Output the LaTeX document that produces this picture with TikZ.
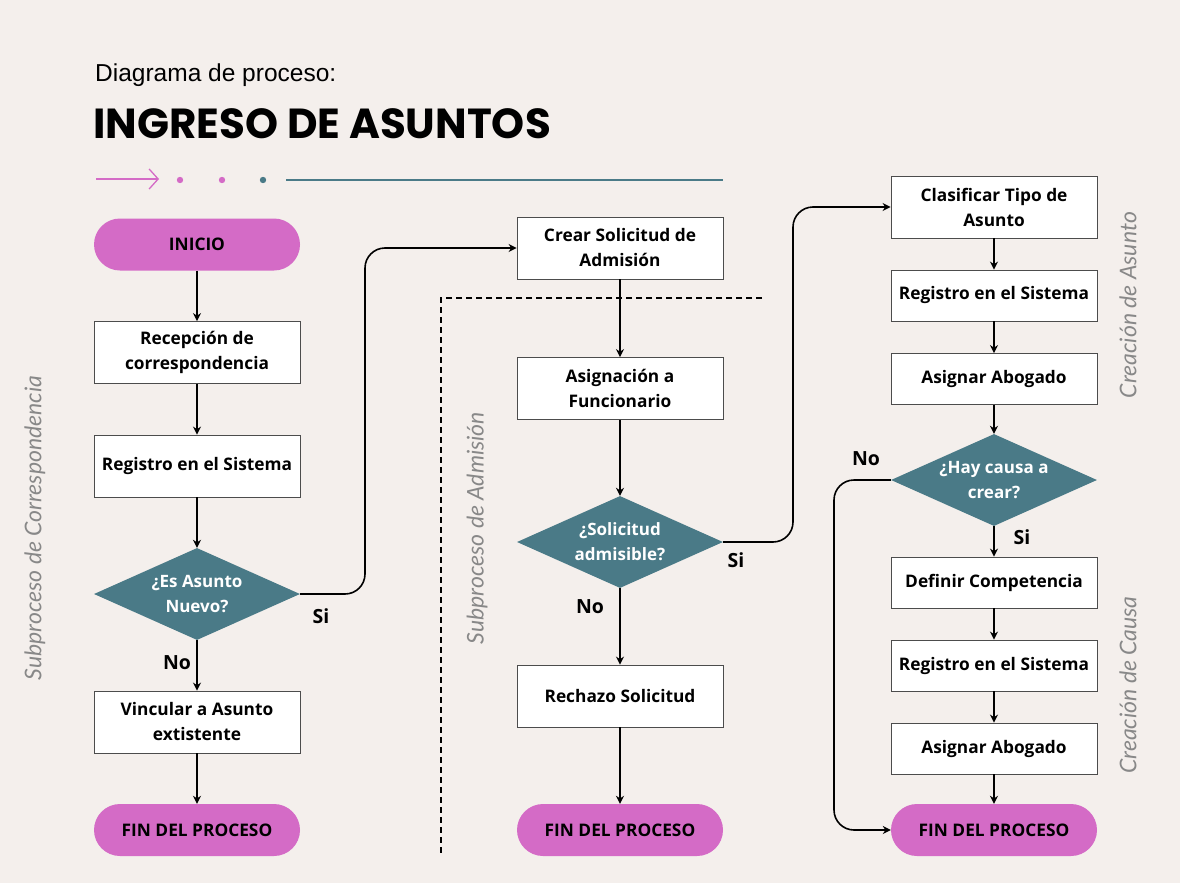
\documentclass[tikz,border=0pt]{standalone}
\usepackage{fontspec}
\setmainfont{Open Sans}
\newfontfamily\titlefont{Poppins}
\newfontfamily\subfont{Liberation Sans}
\newfontfamily\sidefont{Lato}
\usetikzlibrary{shapes.geometric,arrows.meta,positioning}
\definecolor{bgc}{HTML}{F4EFEC}
\definecolor{pill}{HTML}{D46BC6}
\definecolor{teal}{HTML}{4A7A87}
\definecolor{sidegray}{HTML}{888888}
\tikzset{
  procbox/.style={draw=black!70,line width=0.8pt,fill=white,minimum width=206pt,minimum height=62pt,inner sep=0pt,align=center,font=\fontsize{17.3}{25}\selectfont\bfseries},
  pillbox/.style={rounded corners=26pt,fill=pill,minimum width=206pt,minimum height=52pt,inner sep=0pt,align=center,font=\fontsize{17.3}{25}\selectfont\bfseries},
  decision/.style={diamond,fill=teal,aspect=2.24,minimum width=206pt,minimum height=92pt,inner sep=0pt,align=center,text=white,font=\fontsize{17}{25}\selectfont\bfseries},
  flow/.style={line width=1.6pt,-{Stealth[length=8pt,width=8pt]},rounded corners=20pt},
  answer/.style={font=\fontsize{19.5}{22}\selectfont\bfseries,inner sep=0pt},
  sidelabel/.style={rotate=90,text=sidegray,font=\fontsize{23}{26}\selectfont\sidefont\itshape,inner sep=0pt},
  sepline/.style={line width=1.3pt,dashed,dash pattern=on 6pt off 4pt}
}
\begin{document}
\begin{tikzpicture}[x=1pt,y=-1pt]
\fill[bgc] (0,0) rectangle (1180,883);
\useasboundingbox (0,0) rectangle (1180,883);
% title
\node[anchor=west,inner sep=0pt,font=\fontsize{24.5}{28}\selectfont\subfont] (t1) at (95,75) {Diagrama de proceso:};
\node[anchor=west,inner sep=0pt,font=\fontsize{42}{46}\selectfont\titlefont\bfseries] (t2) at (93,124) {INGRESO DE ASUNTOS};
% decoration
\coordinate (da) at (96,179);
\coordinate (db) at (159,179);
\draw[pill,line width=1.3pt,-{Straight Barb[length=9pt,width=20pt]}] (da) -- (db);
\fill[pill] (180,180) circle (3.2pt);
\fill[pill] (222,180) circle (3.2pt);
\fill[teal] (263,180) circle (3.2pt);
\coordinate (la) at (286,180);
\coordinate (lb) at (723,180);
\draw[teal,line width=1.3pt] (la) -- (lb);
% column 1
\node[pillbox] (ini) at (197,244.5) {INICIO};
\node[procbox] (rec) at (197,352.5) {Recepción de\\correspondencia};
\node[procbox] (reg1) at (197,466) {Registro en el Sistema};
\node[decision] (d1) at (197,594) {¿Es Asunto\\Nuevo?};
\node[procbox] (vin) at (197,722) {Vincular a Asunto\\extistente};
\node[pillbox] (fin1) at (197,830) {FIN DEL PROCESO};
% column 2
\node[procbox] (cre) at (620,248) {Crear Solicitud de\\Admisión};
\node[procbox] (asi) at (620,388.5) {Asignación a\\Funcionario};
\node[decision] (d2) at (620,542) {¿Solicitud\\admisible?};
\node[procbox] (rech) at (620,696) {Rechazo Solicitud};
\node[pillbox] (fin2) at (620,830) {FIN DEL PROCESO};
% column 3
\node[procbox] (cla) at (994,207) {Clasificar Tipo de\\Asunto};
\node[procbox,minimum height=51pt] (reg2) at (994,295.5) {Registro en el Sistema};
\node[procbox,minimum height=51pt] (abo1) at (994,379) {Asignar Abogado};
\node[decision] (d3) at (994,480) {¿Hay causa a\\crear?};
\node[procbox,minimum height=51pt] (def) at (994,582.5) {Definir Competencia};
\node[procbox,minimum height=51pt] (reg3) at (994,665.5) {Registro en el Sistema};
\node[procbox,minimum height=51pt] (abo2) at (994,748.5) {Asignar Abogado};
\node[pillbox] (fin3) at (994,830) {FIN DEL PROCESO};
% vertical flows
\draw[flow] (ini) -- (rec);
\draw[flow] (rec) -- (reg1);
\draw[flow] (reg1) -- (d1);
\draw[flow] (d1) -- (vin);
\draw[flow] (vin) -- (fin1);
\draw[flow] (cre) -- (asi);
\draw[flow] (asi) -- (d2);
\draw[flow] (d2) -- (rech);
\draw[flow] (rech) -- (fin2);
\draw[flow] (cla) -- (reg2);
\draw[flow] (reg2) -- (abo1);
\draw[flow] (abo1) -- (d3);
\draw[flow] (d3) -- (def);
\draw[flow] (def) -- (reg3);
\draw[flow] (reg3) -- (abo2);
\draw[flow] (abo2) -- (fin3);
% bent flows
\draw[flow] (d1.east) -| (365,400) |- (cre.west);
\draw[flow] (d2.east) -| (793,400) |- (cla.west);
\draw[flow] (d3.west) -| (834,650) |- (fin3.west);
% answers
\node[answer] (s1) at (321,616) {Si};
\node[answer] (n1) at (177,663) {No};
\node[answer] (s2) at (736,560) {Si};
\node[answer] (n2) at (590,607) {No};
\node[answer] (n3) at (866,459) {No};
\node[answer] (s3) at (1022,537) {Si};
% dashed separators
\coordinate (sa) at (762,298);
\coordinate (sb) at (441,298);
\coordinate (sc) at (441,856);
\draw[sepline] (sa) -- (sb) -- (sc);
% side labels
\node[sidelabel] (l1) at (35,528) {Subproceso de Correspondencia};
\node[sidelabel] (l2) at (477,528) {Subproceso de Admisión};
\node[sidelabel] (l3) at (1128,305) {Creación de Asunto};
\node[sidelabel] (l4) at (1128,685) {Creación de Causa};
\end{tikzpicture}
\end{document}
